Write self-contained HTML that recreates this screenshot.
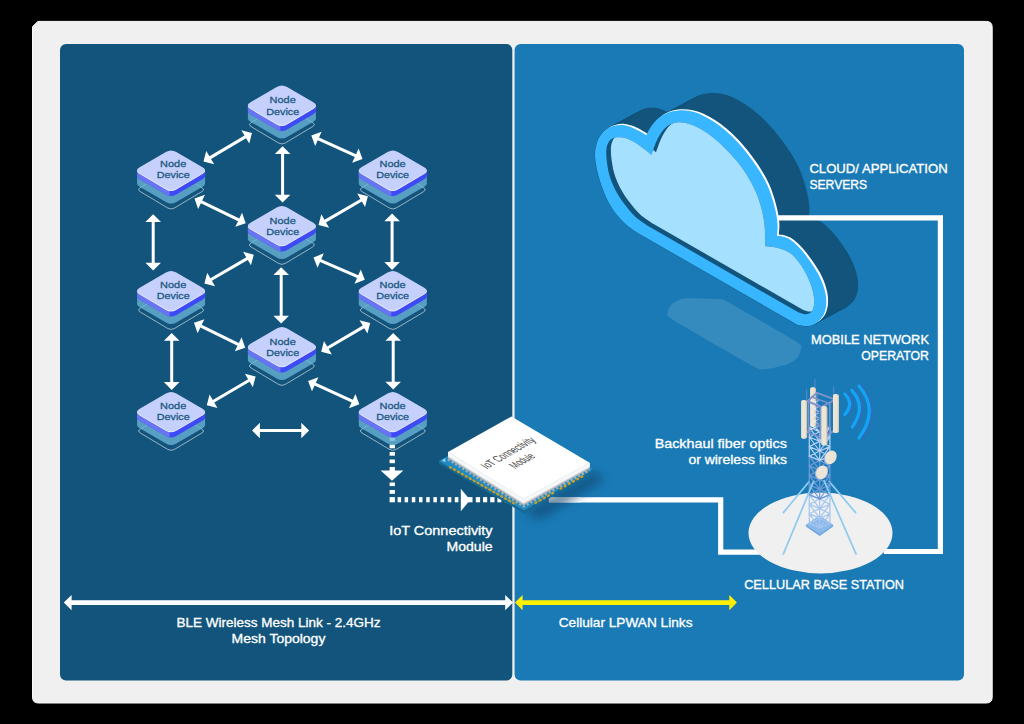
<!DOCTYPE html>
<html><head><meta charset="utf-8"><title>IoT mesh / cellular diagram</title>
<style>
html,body{margin:0;padding:0;background:#000;}
body{width:1024px;height:724px;overflow:hidden;position:relative;}
svg{position:absolute;left:0;top:0;display:block;}
text{font-family:"Liberation Sans",sans-serif;}
</style></head><body>
<svg width="1024" height="724" viewBox="0 0 1024 724">
<rect x="0" y="0" width="1024" height="724" fill="#000"/>
<path d="M37.8,21.4 H986.3 Q992.2,21.4 992.2,27.3 V697.1 Q992.2,703.0 986.3,703.0 H38.4 Q32.5,703.0 32.5,697.1 V26.7 Z" fill="#f0f0f0" stroke="#fbfbfb" stroke-width="1" stroke-linejoin="miter" paint-order="fill"/>
<rect x="60" y="44" width="452.3" height="636.5" rx="6" ry="6" fill="#12547b"/>
<rect x="514.6" y="44" width="449.4" height="636.5" rx="6" ry="6" fill="#1a7ab5"/>
<polygon points="203.50,161.60 214.19,164.34 210.98,158.92 246.05,138.16 249.26,143.59 252.00,132.90 241.31,130.16 244.52,135.58 209.45,156.34 206.24,150.91" fill="#fff"/>
<polygon points="311.30,135.60 315.17,145.93 317.78,140.20 354.78,157.03 352.17,162.77 362.50,158.90 358.63,148.57 356.02,154.30 319.02,137.47 321.63,131.73" fill="#fff"/>
<polygon points="282.60,146.30 274.80,154.10 281.10,154.10 281.10,194.80 274.80,194.80 282.60,202.60 290.40,194.80 284.10,194.80 284.10,154.10 290.40,154.10" fill="#fff"/>
<polygon points="194.50,198.50 198.14,208.91 200.87,203.24 238.02,221.16 235.29,226.84 245.70,223.20 242.06,212.79 239.33,218.46 202.18,200.54 204.91,194.86" fill="#fff"/>
<polygon points="318.50,225.00 329.16,227.83 326.00,222.38 361.91,201.52 365.07,206.96 367.90,196.30 357.24,193.47 360.40,198.92 324.49,219.78 321.33,214.34" fill="#fff"/>
<polygon points="153.20,214.20 145.40,222.00 151.70,222.00 151.70,262.70 145.40,262.70 153.20,270.50 161.00,262.70 154.70,262.70 154.70,222.00 161.00,222.00" fill="#fff"/>
<polygon points="392.10,213.40 384.30,221.20 390.60,221.20 390.60,262.10 384.30,262.10 392.10,269.90 399.90,262.10 393.60,262.10 393.60,221.20 399.90,221.20" fill="#fff"/>
<polygon points="204.40,283.40 215.06,286.23 211.90,280.78 247.81,259.92 250.97,265.36 253.80,254.70 243.14,251.87 246.30,257.32 210.39,278.18 207.23,272.74" fill="#fff"/>
<polygon points="313.50,257.40 317.53,267.67 320.05,261.90 357.05,278.05 354.53,283.83 364.80,279.80 360.77,269.53 358.25,275.30 321.25,259.15 323.77,253.37" fill="#fff"/>
<polygon points="281.20,267.20 273.40,275.00 279.70,275.00 279.70,315.70 273.40,315.70 281.20,323.50 289.00,315.70 282.70,315.70 282.70,275.00 289.00,275.00" fill="#fff"/>
<polygon points="194.00,322.80 197.60,333.23 200.36,327.56 237.53,345.64 234.77,351.30 245.20,347.70 241.60,337.27 238.84,342.94 201.67,324.86 204.43,319.20" fill="#fff"/>
<polygon points="321.20,351.70 331.88,354.47 328.68,349.04 364.24,328.15 367.43,333.58 370.20,322.90 359.52,320.13 362.72,325.56 327.16,346.45 323.97,341.02" fill="#fff"/>
<polygon points="171.70,333.00 163.90,340.80 170.20,340.80 170.20,382.10 163.90,382.10 171.70,389.90 179.50,382.10 173.20,382.10 173.20,340.80 179.50,340.80" fill="#fff"/>
<polygon points="393.20,333.00 385.40,340.80 391.70,340.80 391.70,381.80 385.40,381.80 393.20,389.60 401.00,381.80 394.70,381.80 394.70,340.80 401.00,340.80" fill="#fff"/>
<polygon points="206.80,405.20 217.48,407.97 214.28,402.54 249.64,381.75 252.83,387.18 255.60,376.50 244.92,373.73 248.12,379.16 212.76,399.95 209.57,394.52" fill="#fff"/>
<polygon points="308.10,381.00 311.97,391.33 314.58,385.60 351.58,402.43 348.97,408.17 359.30,404.30 355.43,393.97 352.82,399.70 315.82,382.87 318.43,377.13" fill="#fff"/>
<polygon points="252.10,430.50 259.90,438.30 259.90,432.00 301.30,432.00 301.30,438.30 309.10,430.50 301.30,422.70 301.30,429.00 259.90,429.00 259.90,422.70" fill="#fff"/>
<rect x="389.6" y="437.3" width="5.3" height="3.6" fill="#fff"/>
<rect x="389.6" y="444.6" width="5.3" height="3.7" fill="#fff"/>
<rect x="389.6" y="452.0" width="5.3" height="3.7" fill="#fff"/>
<rect x="389.6" y="459.5" width="5.3" height="3.7" fill="#fff"/>
<rect x="389.6" y="467.0" width="5.3" height="4.0" fill="#fff"/>
<rect x="389.6" y="482.5" width="5.3" height="3.6" fill="#fff"/>
<rect x="389.6" y="490.0" width="5.3" height="3.8" fill="#fff"/>
<rect x="389.6" y="497.1" width="5.3" height="5.2" fill="#fff"/>
<rect x="397.6" y="497.1" width="3.5" height="5.2" fill="#fff"/>
<rect x="404.6" y="497.1" width="3.5" height="5.2" fill="#fff"/>
<rect x="411.8" y="497.1" width="3.5" height="5.2" fill="#fff"/>
<rect x="419.0" y="497.1" width="3.5" height="5.2" fill="#fff"/>
<rect x="426.2" y="497.1" width="3.5" height="5.2" fill="#fff"/>
<rect x="433.4" y="497.1" width="3.5" height="5.2" fill="#fff"/>
<rect x="440.5" y="497.1" width="3.6" height="5.2" fill="#fff"/>
<rect x="447.7" y="497.1" width="3.6" height="5.2" fill="#fff"/>
<rect x="454.8" y="497.1" width="3.6" height="5.2" fill="#fff"/>
<rect x="468.0" y="497.1" width="4.5" height="5.2" fill="#fff"/>
<rect x="475.8" y="497.1" width="4.3" height="5.2" fill="#fff"/>
<rect x="483.0" y="497.1" width="4.2" height="5.2" fill="#fff"/>
<rect x="490.2" y="497.1" width="4.3" height="5.2" fill="#fff"/>
<rect x="497.4" y="497.1" width="4.0" height="5.2" fill="#fff"/>
<rect x="504.6" y="497.1" width="4.0" height="5.2" fill="#fff"/>
<polygon points="380.6,470.6 403.4,470.6 392,480.8" fill="#fff"/>
<polygon points="460.8,488.8 460.8,511.2 470.2,500" fill="#fff"/>
<path d="M251.23,126.65 Q247.80,124.60 251.23,122.55 L278.47,106.25 Q281.90,104.20 285.33,106.25 L312.57,122.55 Q316.00,124.60 312.57,126.65 L285.33,142.95 Q281.90,145.00 278.47,142.95 Z" fill="none" stroke="#fff" stroke-opacity="0.7" stroke-width="0.8"/>
<g opacity="0.78"><path d="M250.49,121.82 Q245.30,118.80 250.49,115.78 L276.71,100.52 Q281.90,97.50 287.09,100.52 L313.31,115.78 Q318.50,118.80 313.31,121.82 L287.09,137.08 Q281.90,140.10 276.71,137.08 Z" fill="#6ab4d6"/><rect x="247.90" y="105.30" width="68.00" height="13.50" fill="#6ab4d6"/></g>
<g ><path d="M250.49,114.32 Q245.30,111.30 250.49,108.28 L276.71,93.02 Q281.90,90.00 287.09,93.02 L313.31,108.28 Q318.50,111.30 313.31,114.32 L287.09,129.58 Q281.90,132.60 276.71,129.58 Z" fill="#3d4af6"/><rect x="247.90" y="105.30" width="68.00" height="6.00" fill="#3d4af6"/></g>
<clipPath id="cl2924"><rect x="244.3" y="100.3" width="36.1" height="60"/></clipPath>
<g clip-path="url(#cl2924)"><path d="M250.49,114.32 Q245.30,111.30 250.49,108.28 L276.71,93.02 Q281.90,90.00 287.09,93.02 L313.31,108.28 Q318.50,111.30 313.31,114.32 L287.09,129.58 Q281.90,132.60 276.71,129.58 Z" fill="#6874f1"/><rect x="247.90" y="105.30" width="68.00" height="6.00" fill="#6874f1"/></g>
<path d="M250.49,109.12 Q245.30,106.10 250.49,103.08 L276.71,87.82 Q281.90,84.80 287.09,87.82 L313.31,103.08 Q318.50,106.10 313.31,109.12 L287.09,124.38 Q281.90,127.40 276.71,124.38 Z" fill="#eef1ff"/>
<path d="M250.49,108.32 Q245.30,105.30 250.49,102.28 L276.71,87.02 Q281.90,84.00 287.09,87.02 L313.31,102.28 Q318.50,105.30 313.31,108.32 L287.09,123.58 Q281.90,126.60 276.71,123.58 Z" fill="#c5d0fc"/>
<text x="282.7" y="103.4" text-anchor="middle" textLength="26.2" font-size="9.7" fill="#1d5a82" stroke="#1d5a82" stroke-width="0.3" lengthAdjust="spacingAndGlyphs">Node</text>
<text x="282.7" y="114.5" text-anchor="middle" textLength="32.9" font-size="9.7" fill="#1d5a82" stroke="#1d5a82" stroke-width="0.3" lengthAdjust="spacingAndGlyphs">Device</text>
<path d="M140.43,191.65 Q137.00,189.60 140.43,187.55 L167.67,171.25 Q171.10,169.20 174.53,171.25 L201.77,187.55 Q205.20,189.60 201.77,191.65 L174.53,207.95 Q171.10,210.00 167.67,207.95 Z" fill="none" stroke="#fff" stroke-opacity="0.7" stroke-width="0.8"/>
<g opacity="0.78"><path d="M139.69,186.82 Q134.50,183.80 139.69,180.78 L165.91,165.52 Q171.10,162.50 176.29,165.52 L202.51,180.78 Q207.70,183.80 202.51,186.82 L176.29,202.08 Q171.10,205.10 165.91,202.08 Z" fill="#6ab4d6"/><rect x="137.10" y="170.30" width="68.00" height="13.50" fill="#6ab4d6"/></g>
<g ><path d="M139.69,179.32 Q134.50,176.30 139.69,173.28 L165.91,158.02 Q171.10,155.00 176.29,158.02 L202.51,173.28 Q207.70,176.30 202.51,179.32 L176.29,194.58 Q171.10,197.60 165.91,194.58 Z" fill="#3d4af6"/><rect x="137.10" y="170.30" width="68.00" height="6.00" fill="#3d4af6"/></g>
<clipPath id="cl1881"><rect x="133.5" y="165.3" width="36.1" height="60"/></clipPath>
<g clip-path="url(#cl1881)"><path d="M139.69,179.32 Q134.50,176.30 139.69,173.28 L165.91,158.02 Q171.10,155.00 176.29,158.02 L202.51,173.28 Q207.70,176.30 202.51,179.32 L176.29,194.58 Q171.10,197.60 165.91,194.58 Z" fill="#6874f1"/><rect x="137.10" y="170.30" width="68.00" height="6.00" fill="#6874f1"/></g>
<path d="M139.69,174.12 Q134.50,171.10 139.69,168.08 L165.91,152.82 Q171.10,149.80 176.29,152.82 L202.51,168.08 Q207.70,171.10 202.51,174.12 L176.29,189.38 Q171.10,192.40 165.91,189.38 Z" fill="#eef1ff"/>
<path d="M139.69,173.32 Q134.50,170.30 139.69,167.28 L165.91,152.02 Q171.10,149.00 176.29,152.02 L202.51,167.28 Q207.70,170.30 202.51,173.32 L176.29,188.58 Q171.10,191.60 165.91,188.58 Z" fill="#c5d0fc"/>
<text x="173.2" y="167.4" text-anchor="middle" textLength="26.2" font-size="9.7" fill="#1d5a82" stroke="#1d5a82" stroke-width="0.3" lengthAdjust="spacingAndGlyphs">Node</text>
<text x="173.2" y="178.4" text-anchor="middle" textLength="32.9" font-size="9.7" fill="#1d5a82" stroke="#1d5a82" stroke-width="0.3" lengthAdjust="spacingAndGlyphs">Device</text>
<path d="M362.13,191.65 Q358.70,189.60 362.13,187.55 L389.37,171.25 Q392.80,169.20 396.23,171.25 L423.47,187.55 Q426.90,189.60 423.47,191.65 L396.23,207.95 Q392.80,210.00 389.37,207.95 Z" fill="none" stroke="#fff" stroke-opacity="0.7" stroke-width="0.8"/>
<g opacity="0.78"><path d="M361.39,186.82 Q356.20,183.80 361.39,180.78 L387.61,165.52 Q392.80,162.50 397.99,165.52 L424.21,180.78 Q429.40,183.80 424.21,186.82 L397.99,202.08 Q392.80,205.10 387.61,202.08 Z" fill="#6ab4d6"/><rect x="358.80" y="170.30" width="68.00" height="13.50" fill="#6ab4d6"/></g>
<g ><path d="M361.39,179.32 Q356.20,176.30 361.39,173.28 L387.61,158.02 Q392.80,155.00 397.99,158.02 L424.21,173.28 Q429.40,176.30 424.21,179.32 L397.99,194.58 Q392.80,197.60 387.61,194.58 Z" fill="#3d4af6"/><rect x="358.80" y="170.30" width="68.00" height="6.00" fill="#3d4af6"/></g>
<clipPath id="cl4098"><rect x="355.2" y="165.3" width="36.1" height="60"/></clipPath>
<g clip-path="url(#cl4098)"><path d="M361.39,179.32 Q356.20,176.30 361.39,173.28 L387.61,158.02 Q392.80,155.00 397.99,158.02 L424.21,173.28 Q429.40,176.30 424.21,179.32 L397.99,194.58 Q392.80,197.60 387.61,194.58 Z" fill="#6874f1"/><rect x="358.80" y="170.30" width="68.00" height="6.00" fill="#6874f1"/></g>
<path d="M361.39,174.12 Q356.20,171.10 361.39,168.08 L387.61,152.82 Q392.80,149.80 397.99,152.82 L424.21,168.08 Q429.40,171.10 424.21,174.12 L397.99,189.38 Q392.80,192.40 387.61,189.38 Z" fill="#eef1ff"/>
<path d="M361.39,173.32 Q356.20,170.30 361.39,167.28 L387.61,152.02 Q392.80,149.00 397.99,152.02 L424.21,167.28 Q429.40,170.30 424.21,173.32 L397.99,188.58 Q392.80,191.60 387.61,188.58 Z" fill="#c5d0fc"/>
<text x="392.6" y="167.4" text-anchor="middle" textLength="26.2" font-size="9.7" fill="#1d5a82" stroke="#1d5a82" stroke-width="0.3" lengthAdjust="spacingAndGlyphs">Node</text>
<text x="392.6" y="178.4" text-anchor="middle" textLength="32.9" font-size="9.7" fill="#1d5a82" stroke="#1d5a82" stroke-width="0.3" lengthAdjust="spacingAndGlyphs">Device</text>
<path d="M251.23,247.05 Q247.80,245.00 251.23,242.95 L278.47,226.65 Q281.90,224.60 285.33,226.65 L312.57,242.95 Q316.00,245.00 312.57,247.05 L285.33,263.35 Q281.90,265.40 278.47,263.35 Z" fill="none" stroke="#fff" stroke-opacity="0.7" stroke-width="0.8"/>
<g opacity="0.78"><path d="M250.49,242.22 Q245.30,239.20 250.49,236.18 L276.71,220.92 Q281.90,217.90 287.09,220.92 L313.31,236.18 Q318.50,239.20 313.31,242.22 L287.09,257.48 Q281.90,260.50 276.71,257.48 Z" fill="#6ab4d6"/><rect x="247.90" y="225.70" width="68.00" height="13.50" fill="#6ab4d6"/></g>
<g ><path d="M250.49,234.72 Q245.30,231.70 250.49,228.68 L276.71,213.42 Q281.90,210.40 287.09,213.42 L313.31,228.68 Q318.50,231.70 313.31,234.72 L287.09,249.98 Q281.90,253.00 276.71,249.98 Z" fill="#3d4af6"/><rect x="247.90" y="225.70" width="68.00" height="6.00" fill="#3d4af6"/></g>
<clipPath id="cl3044"><rect x="244.3" y="220.7" width="36.1" height="60"/></clipPath>
<g clip-path="url(#cl3044)"><path d="M250.49,234.72 Q245.30,231.70 250.49,228.68 L276.71,213.42 Q281.90,210.40 287.09,213.42 L313.31,228.68 Q318.50,231.70 313.31,234.72 L287.09,249.98 Q281.90,253.00 276.71,249.98 Z" fill="#6874f1"/><rect x="247.90" y="225.70" width="68.00" height="6.00" fill="#6874f1"/></g>
<path d="M250.49,229.52 Q245.30,226.50 250.49,223.48 L276.71,208.22 Q281.90,205.20 287.09,208.22 L313.31,223.48 Q318.50,226.50 313.31,229.52 L287.09,244.78 Q281.90,247.80 276.71,244.78 Z" fill="#eef1ff"/>
<path d="M250.49,228.72 Q245.30,225.70 250.49,222.68 L276.71,207.42 Q281.90,204.40 287.09,207.42 L313.31,222.68 Q318.50,225.70 313.31,228.72 L287.09,243.98 Q281.90,247.00 276.71,243.98 Z" fill="#c5d0fc"/>
<text x="282.7" y="223.8" text-anchor="middle" textLength="26.2" font-size="9.7" fill="#1d5a82" stroke="#1d5a82" stroke-width="0.3" lengthAdjust="spacingAndGlyphs">Node</text>
<text x="282.7" y="234.9" text-anchor="middle" textLength="32.9" font-size="9.7" fill="#1d5a82" stroke="#1d5a82" stroke-width="0.3" lengthAdjust="spacingAndGlyphs">Device</text>
<path d="M140.43,312.15 Q137.00,310.10 140.43,308.05 L167.67,291.75 Q171.10,289.70 174.53,291.75 L201.77,308.05 Q205.20,310.10 201.77,312.15 L174.53,328.45 Q171.10,330.50 167.67,328.45 Z" fill="none" stroke="#fff" stroke-opacity="0.7" stroke-width="0.8"/>
<g opacity="0.78"><path d="M139.69,307.32 Q134.50,304.30 139.69,301.28 L165.91,286.02 Q171.10,283.00 176.29,286.02 L202.51,301.28 Q207.70,304.30 202.51,307.32 L176.29,322.58 Q171.10,325.60 165.91,322.58 Z" fill="#6ab4d6"/><rect x="137.10" y="290.80" width="68.00" height="13.50" fill="#6ab4d6"/></g>
<g ><path d="M139.69,299.82 Q134.50,296.80 139.69,293.78 L165.91,278.52 Q171.10,275.50 176.29,278.52 L202.51,293.78 Q207.70,296.80 202.51,299.82 L176.29,315.08 Q171.10,318.10 165.91,315.08 Z" fill="#3d4af6"/><rect x="137.10" y="290.80" width="68.00" height="6.00" fill="#3d4af6"/></g>
<clipPath id="cl2001"><rect x="133.5" y="285.8" width="36.1" height="60"/></clipPath>
<g clip-path="url(#cl2001)"><path d="M139.69,299.82 Q134.50,296.80 139.69,293.78 L165.91,278.52 Q171.10,275.50 176.29,278.52 L202.51,293.78 Q207.70,296.80 202.51,299.82 L176.29,315.08 Q171.10,318.10 165.91,315.08 Z" fill="#6874f1"/><rect x="137.10" y="290.80" width="68.00" height="6.00" fill="#6874f1"/></g>
<path d="M139.69,294.62 Q134.50,291.60 139.69,288.58 L165.91,273.32 Q171.10,270.30 176.29,273.32 L202.51,288.58 Q207.70,291.60 202.51,294.62 L176.29,309.88 Q171.10,312.90 165.91,309.88 Z" fill="#eef1ff"/>
<path d="M139.69,293.82 Q134.50,290.80 139.69,287.78 L165.91,272.52 Q171.10,269.50 176.29,272.52 L202.51,287.78 Q207.70,290.80 202.51,293.82 L176.29,309.08 Q171.10,312.10 165.91,309.08 Z" fill="#c5d0fc"/>
<text x="173.2" y="287.9" text-anchor="middle" textLength="26.2" font-size="9.7" fill="#1d5a82" stroke="#1d5a82" stroke-width="0.3" lengthAdjust="spacingAndGlyphs">Node</text>
<text x="173.2" y="298.9" text-anchor="middle" textLength="32.9" font-size="9.7" fill="#1d5a82" stroke="#1d5a82" stroke-width="0.3" lengthAdjust="spacingAndGlyphs">Device</text>
<path d="M362.13,312.15 Q358.70,310.10 362.13,308.05 L389.37,291.75 Q392.80,289.70 396.23,291.75 L423.47,308.05 Q426.90,310.10 423.47,312.15 L396.23,328.45 Q392.80,330.50 389.37,328.45 Z" fill="none" stroke="#fff" stroke-opacity="0.7" stroke-width="0.8"/>
<g opacity="0.78"><path d="M361.39,307.32 Q356.20,304.30 361.39,301.28 L387.61,286.02 Q392.80,283.00 397.99,286.02 L424.21,301.28 Q429.40,304.30 424.21,307.32 L397.99,322.58 Q392.80,325.60 387.61,322.58 Z" fill="#6ab4d6"/><rect x="358.80" y="290.80" width="68.00" height="13.50" fill="#6ab4d6"/></g>
<g ><path d="M361.39,299.82 Q356.20,296.80 361.39,293.78 L387.61,278.52 Q392.80,275.50 397.99,278.52 L424.21,293.78 Q429.40,296.80 424.21,299.82 L397.99,315.08 Q392.80,318.10 387.61,315.08 Z" fill="#3d4af6"/><rect x="358.80" y="290.80" width="68.00" height="6.00" fill="#3d4af6"/></g>
<clipPath id="cl4218"><rect x="355.2" y="285.8" width="36.1" height="60"/></clipPath>
<g clip-path="url(#cl4218)"><path d="M361.39,299.82 Q356.20,296.80 361.39,293.78 L387.61,278.52 Q392.80,275.50 397.99,278.52 L424.21,293.78 Q429.40,296.80 424.21,299.82 L397.99,315.08 Q392.80,318.10 387.61,315.08 Z" fill="#6874f1"/><rect x="358.80" y="290.80" width="68.00" height="6.00" fill="#6874f1"/></g>
<path d="M361.39,294.62 Q356.20,291.60 361.39,288.58 L387.61,273.32 Q392.80,270.30 397.99,273.32 L424.21,288.58 Q429.40,291.60 424.21,294.62 L397.99,309.88 Q392.80,312.90 387.61,309.88 Z" fill="#eef1ff"/>
<path d="M361.39,293.82 Q356.20,290.80 361.39,287.78 L387.61,272.52 Q392.80,269.50 397.99,272.52 L424.21,287.78 Q429.40,290.80 424.21,293.82 L397.99,309.08 Q392.80,312.10 387.61,309.08 Z" fill="#c5d0fc"/>
<text x="392.6" y="287.9" text-anchor="middle" textLength="26.2" font-size="9.7" fill="#1d5a82" stroke="#1d5a82" stroke-width="0.3" lengthAdjust="spacingAndGlyphs">Node</text>
<text x="392.6" y="298.9" text-anchor="middle" textLength="32.9" font-size="9.7" fill="#1d5a82" stroke="#1d5a82" stroke-width="0.3" lengthAdjust="spacingAndGlyphs">Device</text>
<path d="M251.23,368.05 Q247.80,366.00 251.23,363.95 L278.47,347.65 Q281.90,345.60 285.33,347.65 L312.57,363.95 Q316.00,366.00 312.57,368.05 L285.33,384.35 Q281.90,386.40 278.47,384.35 Z" fill="none" stroke="#fff" stroke-opacity="0.7" stroke-width="0.8"/>
<g opacity="0.78"><path d="M250.49,363.22 Q245.30,360.20 250.49,357.18 L276.71,341.92 Q281.90,338.90 287.09,341.92 L313.31,357.18 Q318.50,360.20 313.31,363.22 L287.09,378.48 Q281.90,381.50 276.71,378.48 Z" fill="#6ab4d6"/><rect x="247.90" y="346.70" width="68.00" height="13.50" fill="#6ab4d6"/></g>
<g ><path d="M250.49,355.72 Q245.30,352.70 250.49,349.68 L276.71,334.42 Q281.90,331.40 287.09,334.42 L313.31,349.68 Q318.50,352.70 313.31,355.72 L287.09,370.98 Q281.90,374.00 276.71,370.98 Z" fill="#3d4af6"/><rect x="247.90" y="346.70" width="68.00" height="6.00" fill="#3d4af6"/></g>
<clipPath id="cl3165"><rect x="244.3" y="341.7" width="36.1" height="60"/></clipPath>
<g clip-path="url(#cl3165)"><path d="M250.49,355.72 Q245.30,352.70 250.49,349.68 L276.71,334.42 Q281.90,331.40 287.09,334.42 L313.31,349.68 Q318.50,352.70 313.31,355.72 L287.09,370.98 Q281.90,374.00 276.71,370.98 Z" fill="#6874f1"/><rect x="247.90" y="346.70" width="68.00" height="6.00" fill="#6874f1"/></g>
<path d="M250.49,350.52 Q245.30,347.50 250.49,344.48 L276.71,329.22 Q281.90,326.20 287.09,329.22 L313.31,344.48 Q318.50,347.50 313.31,350.52 L287.09,365.78 Q281.90,368.80 276.71,365.78 Z" fill="#eef1ff"/>
<path d="M250.49,349.72 Q245.30,346.70 250.49,343.68 L276.71,328.42 Q281.90,325.40 287.09,328.42 L313.31,343.68 Q318.50,346.70 313.31,349.72 L287.09,364.98 Q281.90,368.00 276.71,364.98 Z" fill="#c5d0fc"/>
<text x="282.7" y="344.8" text-anchor="middle" textLength="26.2" font-size="9.7" fill="#1d5a82" stroke="#1d5a82" stroke-width="0.3" lengthAdjust="spacingAndGlyphs">Node</text>
<text x="282.7" y="355.9" text-anchor="middle" textLength="32.9" font-size="9.7" fill="#1d5a82" stroke="#1d5a82" stroke-width="0.3" lengthAdjust="spacingAndGlyphs">Device</text>
<path d="M140.43,433.05 Q137.00,431.00 140.43,428.95 L167.67,412.65 Q171.10,410.60 174.53,412.65 L201.77,428.95 Q205.20,431.00 201.77,433.05 L174.53,449.35 Q171.10,451.40 167.67,449.35 Z" fill="none" stroke="#fff" stroke-opacity="0.7" stroke-width="0.8"/>
<g opacity="0.78"><path d="M139.69,428.22 Q134.50,425.20 139.69,422.18 L165.91,406.92 Q171.10,403.90 176.29,406.92 L202.51,422.18 Q207.70,425.20 202.51,428.22 L176.29,443.48 Q171.10,446.50 165.91,443.48 Z" fill="#6ab4d6"/><rect x="137.10" y="411.70" width="68.00" height="13.50" fill="#6ab4d6"/></g>
<g ><path d="M139.69,420.72 Q134.50,417.70 139.69,414.68 L165.91,399.42 Q171.10,396.40 176.29,399.42 L202.51,414.68 Q207.70,417.70 202.51,420.72 L176.29,435.98 Q171.10,439.00 165.91,435.98 Z" fill="#3d4af6"/><rect x="137.10" y="411.70" width="68.00" height="6.00" fill="#3d4af6"/></g>
<clipPath id="cl2122"><rect x="133.5" y="406.7" width="36.1" height="60"/></clipPath>
<g clip-path="url(#cl2122)"><path d="M139.69,420.72 Q134.50,417.70 139.69,414.68 L165.91,399.42 Q171.10,396.40 176.29,399.42 L202.51,414.68 Q207.70,417.70 202.51,420.72 L176.29,435.98 Q171.10,439.00 165.91,435.98 Z" fill="#6874f1"/><rect x="137.10" y="411.70" width="68.00" height="6.00" fill="#6874f1"/></g>
<path d="M139.69,415.52 Q134.50,412.50 139.69,409.48 L165.91,394.22 Q171.10,391.20 176.29,394.22 L202.51,409.48 Q207.70,412.50 202.51,415.52 L176.29,430.78 Q171.10,433.80 165.91,430.78 Z" fill="#eef1ff"/>
<path d="M139.69,414.72 Q134.50,411.70 139.69,408.68 L165.91,393.42 Q171.10,390.40 176.29,393.42 L202.51,408.68 Q207.70,411.70 202.51,414.72 L176.29,429.98 Q171.10,433.00 165.91,429.98 Z" fill="#c5d0fc"/>
<text x="173.2" y="408.8" text-anchor="middle" textLength="26.2" font-size="9.7" fill="#1d5a82" stroke="#1d5a82" stroke-width="0.3" lengthAdjust="spacingAndGlyphs">Node</text>
<text x="173.2" y="419.8" text-anchor="middle" textLength="32.9" font-size="9.7" fill="#1d5a82" stroke="#1d5a82" stroke-width="0.3" lengthAdjust="spacingAndGlyphs">Device</text>
<path d="M362.13,433.05 Q358.70,431.00 362.13,428.95 L389.37,412.65 Q392.80,410.60 396.23,412.65 L423.47,428.95 Q426.90,431.00 423.47,433.05 L396.23,449.35 Q392.80,451.40 389.37,449.35 Z" fill="none" stroke="#fff" stroke-opacity="0.7" stroke-width="0.8"/>
<g opacity="0.78"><path d="M361.39,428.22 Q356.20,425.20 361.39,422.18 L387.61,406.92 Q392.80,403.90 397.99,406.92 L424.21,422.18 Q429.40,425.20 424.21,428.22 L397.99,443.48 Q392.80,446.50 387.61,443.48 Z" fill="#6ab4d6"/><rect x="358.80" y="411.70" width="68.00" height="13.50" fill="#6ab4d6"/></g>
<g ><path d="M361.39,420.72 Q356.20,417.70 361.39,414.68 L387.61,399.42 Q392.80,396.40 397.99,399.42 L424.21,414.68 Q429.40,417.70 424.21,420.72 L397.99,435.98 Q392.80,439.00 387.61,435.98 Z" fill="#3d4af6"/><rect x="358.80" y="411.70" width="68.00" height="6.00" fill="#3d4af6"/></g>
<clipPath id="cl4339"><rect x="355.2" y="406.7" width="36.1" height="60"/></clipPath>
<g clip-path="url(#cl4339)"><path d="M361.39,420.72 Q356.20,417.70 361.39,414.68 L387.61,399.42 Q392.80,396.40 397.99,399.42 L424.21,414.68 Q429.40,417.70 424.21,420.72 L397.99,435.98 Q392.80,439.00 387.61,435.98 Z" fill="#6874f1"/><rect x="358.80" y="411.70" width="68.00" height="6.00" fill="#6874f1"/></g>
<path d="M361.39,415.52 Q356.20,412.50 361.39,409.48 L387.61,394.22 Q392.80,391.20 397.99,394.22 L424.21,409.48 Q429.40,412.50 424.21,415.52 L397.99,430.78 Q392.80,433.80 387.61,430.78 Z" fill="#eef1ff"/>
<path d="M361.39,414.72 Q356.20,411.70 361.39,408.68 L387.61,393.42 Q392.80,390.40 397.99,393.42 L424.21,408.68 Q429.40,411.70 424.21,414.72 L397.99,429.98 Q392.80,433.00 387.61,429.98 Z" fill="#c5d0fc"/>
<text x="392.6" y="408.8" text-anchor="middle" textLength="26.2" font-size="9.7" fill="#1d5a82" stroke="#1d5a82" stroke-width="0.3" lengthAdjust="spacingAndGlyphs">Node</text>
<text x="392.6" y="419.8" text-anchor="middle" textLength="32.9" font-size="9.7" fill="#1d5a82" stroke="#1d5a82" stroke-width="0.3" lengthAdjust="spacingAndGlyphs">Device</text>
<text x="809.4" y="173.4" font-size="13.2" text-anchor="start" font-weight="normal" fill="#fff" textLength="138.3" lengthAdjust="spacingAndGlyphs" stroke="#fff" stroke-width="0.32">CLOUD/ APPLICATION</text>
<text x="809.4" y="188.8" font-size="13.2" text-anchor="start" font-weight="normal" fill="#fff" textLength="57.8" lengthAdjust="spacingAndGlyphs" stroke="#fff" stroke-width="0.32">SERVERS</text>
<text x="929.0" y="344.4" font-size="13.2" text-anchor="end" font-weight="normal" fill="#fff" textLength="118.0" lengthAdjust="spacingAndGlyphs" stroke="#fff" stroke-width="0.32">MOBILE NETWORK</text>
<text x="929.0" y="359.7" font-size="13.2" text-anchor="end" font-weight="normal" fill="#fff" textLength="67.8" lengthAdjust="spacingAndGlyphs" stroke="#fff" stroke-width="0.32">OPERATOR</text>
<text x="786.9" y="448.1" font-size="13.2" text-anchor="end" font-weight="normal" fill="#fff" textLength="132.2" lengthAdjust="spacingAndGlyphs" stroke="#fff" stroke-width="0.32">Backhaul fiber optics</text>
<text x="786.9" y="463.8" font-size="13.2" text-anchor="end" font-weight="normal" fill="#fff" textLength="98.5" lengthAdjust="spacingAndGlyphs" stroke="#fff" stroke-width="0.32">or wireless links</text>
<text x="492.6" y="535.0" font-size="13.2" text-anchor="end" font-weight="normal" fill="#fff" textLength="103.4" lengthAdjust="spacingAndGlyphs" stroke="#fff" stroke-width="0.32">IoT Connectivity</text>
<text x="492.6" y="550.8" font-size="13.2" text-anchor="end" font-weight="normal" fill="#fff" textLength="46.0" lengthAdjust="spacingAndGlyphs" stroke="#fff" stroke-width="0.32">Module</text>
<text x="625.6" y="626.9" font-size="13.2" text-anchor="middle" font-weight="normal" fill="#fff" textLength="133.8" lengthAdjust="spacingAndGlyphs" stroke="#fff" stroke-width="0.32">Cellular LPWAN Links</text>
<polygon points="63.80,602.60 71.60,610.30 71.60,605.00 505.20,605.00 505.20,610.30 513.00,602.60 505.20,594.90 505.20,600.20 71.60,600.20 71.60,594.90" fill="#fff"/>
<polygon points="515.00,602.60 522.60,610.20 522.60,605.00 729.30,605.00 729.30,610.20 736.90,602.60 729.30,595.00 729.30,600.20 522.60,600.20 522.60,595.00" fill="#fff000"/>
<defs><path id="cOut" d="M640.50,234.50 C638.28,232.98 631.07,228.60 627.20,225.40 C623.33,222.20 620.33,219.03 617.30,215.30 C614.27,211.57 611.48,207.55 609.00,203.00 C606.52,198.45 604.25,192.92 602.40,188.00 C600.55,183.08 599.03,177.88 597.90,173.50 C596.77,169.12 596.08,165.12 595.60,161.70 C595.12,158.28 594.90,155.70 595.00,153.00 C595.10,150.30 595.52,148.07 596.20,145.50 C596.88,142.93 597.63,140.10 599.10,137.60 C600.57,135.10 602.65,132.42 605.00,130.50 C607.35,128.58 610.27,127.02 613.20,126.10 C616.13,125.18 619.47,124.78 622.60,125.00 C625.73,125.22 629.07,126.32 632.00,127.40 C634.93,128.48 637.82,130.20 640.20,131.50 C642.58,132.80 645.28,134.58 646.30,135.20 L646.30,135.20 C647.05,133.83 648.88,129.73 650.80,127.00 C652.72,124.27 655.07,121.15 657.80,118.80 C660.53,116.45 663.68,114.30 667.20,112.90 C670.72,111.50 675.10,110.70 678.90,110.40 C682.70,110.10 686.20,110.35 690.00,111.10 C693.80,111.85 697.78,113.18 701.70,114.90 C705.62,116.62 709.58,118.85 713.50,121.40 C717.42,123.95 721.28,126.87 725.20,130.20 C729.12,133.53 733.08,137.20 737.00,141.40 C740.92,145.60 744.98,150.53 748.70,155.40 C752.42,160.27 756.15,165.53 759.30,170.60 C762.45,175.67 765.32,180.72 767.60,185.80 C769.88,190.88 771.53,196.20 773.00,201.10 C774.47,206.00 775.63,211.10 776.40,215.20 C777.17,219.30 777.50,222.28 777.60,225.70 C777.70,229.12 777.10,234.03 777.00,235.70 L777.00,235.70 C778.27,235.92 781.97,236.03 784.60,237.00 C787.23,237.97 789.50,238.73 792.80,241.50 C796.10,244.27 800.23,248.32 804.40,253.60 C808.57,258.88 814.45,267.20 817.80,273.20 C821.15,279.20 823.08,284.72 824.50,289.60 C825.92,294.48 826.38,298.43 826.30,302.50 C826.22,306.57 825.55,310.68 824.00,314.00 C822.45,317.32 819.67,320.40 817.00,322.40 C814.33,324.40 811.20,325.57 808.00,326.00 C804.80,326.43 799.50,325.17 797.80,325.00 Z"/><path id="cHole" d="M649.00,226.60 C646.77,225.00 639.63,220.67 635.60,217.00 C631.57,213.33 628.13,209.02 624.80,204.60 C621.47,200.18 618.13,195.30 615.60,190.50 C613.07,185.70 611.05,180.60 609.60,175.80 C608.15,171.00 607.45,165.83 606.90,161.70 C606.35,157.57 606.20,153.87 606.30,151.00 C606.40,148.13 606.88,146.30 607.50,144.50 C608.12,142.70 609.00,141.28 610.00,140.20 C611.00,139.12 612.18,138.50 613.50,138.00 C614.82,137.50 615.80,137.17 617.90,137.20 C620.00,137.23 622.97,137.17 626.10,138.20 C629.23,139.23 633.63,141.55 636.70,143.40 C639.77,145.25 642.05,147.40 644.50,149.30 C646.95,151.20 650.25,153.88 651.40,154.80 L651.40,154.80 C652.23,152.58 654.58,145.42 656.40,141.50 C658.22,137.58 660.17,134.05 662.30,131.30 C664.43,128.55 666.43,126.50 669.20,125.00 C671.97,123.50 675.43,122.42 678.90,122.30 C682.37,122.18 686.20,123.08 690.00,124.30 C693.80,125.52 697.78,127.35 701.70,129.60 C705.62,131.85 709.58,134.67 713.50,137.80 C717.42,140.93 721.28,144.48 725.20,148.40 C729.12,152.32 733.37,156.82 737.00,161.30 C740.63,165.78 743.87,170.23 747.00,175.30 C750.13,180.37 753.35,186.03 755.80,191.70 C758.25,197.37 760.23,203.63 761.70,209.30 C763.17,214.97 763.98,219.55 764.60,225.70 C765.22,231.85 765.27,242.78 765.40,246.20 L765.40,246.20 C767.50,246.50 773.62,246.65 778.00,248.00 C782.38,249.35 787.40,250.72 791.70,254.30 C796.00,257.88 800.52,264.18 803.80,269.50 C807.08,274.82 809.67,281.12 811.40,286.20 C813.13,291.28 813.95,296.12 814.20,300.00 C814.45,303.88 813.77,307.23 812.90,309.50 C812.03,311.77 810.57,312.85 809.00,313.60 C807.43,314.35 805.37,314.25 803.50,314.00 C801.63,313.75 798.75,312.42 797.80,312.10 Z"/><clipPath id="cHoleClip"><use href="#cHole"/></clipPath></defs>
<path d="M667.60,312.50 C667.37,310.57 669.97,305.63 672.00,304.00 C674.03,302.37 679.40,299.05 685.00,298.50 C690.60,297.95 715.10,298.95 720.00,299.30 C724.90,299.65 718.13,296.58 727.00,301.50 C735.87,306.42 787.37,336.02 796.00,341.50 C804.63,346.98 800.88,346.57 801.00,348.50 C801.12,350.43 798.63,356.14 797.00,358.00 C795.37,359.86 790.85,363.08 787.00,364.40 C783.15,365.72 768.08,369.17 764.00,369.30 C759.92,369.43 762.50,371.19 752.00,365.50 C741.50,359.81 683.85,326.68 674.00,320.50 C664.15,314.32 667.83,314.43 667.60,312.50Z" fill="#fff" fill-opacity="0.12"/>
<g fill="#12547b" stroke="#12547b" stroke-width="0.6"><use href="#cOut" x="0.00" y="-0.00"/><use href="#cOut" x="0.88" y="-0.47"/><use href="#cOut" x="1.75" y="-0.94"/><use href="#cOut" x="2.62" y="-1.42"/><use href="#cOut" x="3.50" y="-1.89"/><use href="#cOut" x="4.38" y="-2.36"/><use href="#cOut" x="5.25" y="-2.83"/><use href="#cOut" x="6.12" y="-3.31"/><use href="#cOut" x="7.00" y="-3.78"/><use href="#cOut" x="7.88" y="-4.25"/><use href="#cOut" x="8.75" y="-4.72"/><use href="#cOut" x="9.62" y="-5.19"/><use href="#cOut" x="10.50" y="-5.67"/><use href="#cOut" x="11.38" y="-6.14"/><use href="#cOut" x="12.25" y="-6.61"/><use href="#cOut" x="13.12" y="-7.08"/><use href="#cOut" x="14.00" y="-7.56"/><use href="#cOut" x="14.88" y="-8.03"/><use href="#cOut" x="15.75" y="-8.50"/><use href="#cOut" x="16.62" y="-8.97"/><use href="#cOut" x="17.50" y="-9.44"/><use href="#cOut" x="18.38" y="-9.92"/><use href="#cOut" x="19.25" y="-10.39"/><use href="#cOut" x="20.12" y="-10.86"/><use href="#cOut" x="21.00" y="-11.33"/><use href="#cOut" x="21.88" y="-11.81"/><use href="#cOut" x="22.75" y="-12.28"/><use href="#cOut" x="23.62" y="-12.75"/><use href="#cOut" x="24.50" y="-13.22"/><use href="#cOut" x="25.38" y="-13.69"/><use href="#cOut" x="26.25" y="-14.17"/><use href="#cOut" x="27.12" y="-14.64"/><use href="#cOut" x="28.00" y="-15.11"/><use href="#cOut" x="28.88" y="-15.58"/><use href="#cOut" x="29.75" y="-16.06"/><use href="#cOut" x="30.62" y="-16.53"/><use href="#cOut" x="31.50" y="-17.00"/></g>
<path d="M777,217.9 H940.4 V551.5 H884" fill="none" stroke="#fff" stroke-width="5.2"/>
<defs><linearGradient id="fadeL" gradientUnits="userSpaceOnUse" x1="548" y1="0" x2="580" y2="0"><stop offset="0" stop-color="#e4e7ea"/><stop offset="1" stop-color="#fff"/></linearGradient></defs>
<path d="M548.9,499.8 H720.7 V552.2 H760" fill="none" stroke="#fff" stroke-width="5.2"/>
<rect x="548.9" y="497.2" width="32" height="5.2" fill="url(#fadeL)"/>
<use href="#cOut" x="1.8" y="-1.1" fill="#fff"/>
<use href="#cOut" fill="#38b6ff"/>
<use href="#cHole" fill="#12547b"/>
<g clip-path="url(#cHoleClip)"><use href="#cHole" x="4.6" y="-2.6" fill="#a6e0ff"/></g>
<ellipse cx="820.5" cy="533" rx="72" ry="40.4" fill="#f0f0f0"/>
<g stroke="#8ecbf0" stroke-width="1.7" fill="none" stroke-linecap="round"><path d="M809.3,481.4 L783.4,512.6 M829.1,481.4 L855.6,512.6"/></g>
<path d="M805.9,524.9 L819.7,515.5 L833.2,524.9 L833.2,526.6 L819.7,536 L805.9,526.6 Z" fill="#6fa3df"/>
<path d="M805.9,524.9 L819.7,515.5 L833.2,524.9 L819.7,534.3 Z" fill="#8bb8ea"/>
<g stroke="#a5c6ef" stroke-width="1.25" fill="none" stroke-linecap="round"><path d="M809.3,494.6 V523.4 M819.7,499.0 V527.8 M829.9,494.6 V523.4"/><path d="M809.3,523.4 L819.7,527.8 L829.9,523.4 M809.3,523.4 L819.7,518.2 M819.7,527.8 L809.3,513.8 M829.9,523.4 L819.7,518.2 M819.7,527.8 L829.9,513.8 M809.3,513.8 L819.7,518.2 L829.9,513.8 M809.3,513.8 L819.7,508.6 M819.7,518.2 L809.3,504.2 M829.9,513.8 L819.7,508.6 M819.7,518.2 L829.9,504.2 M809.3,504.2 L819.7,508.6 L829.9,504.2 M809.3,504.2 L819.7,499.0 M819.7,508.6 L809.3,494.6 M829.9,504.2 L819.7,499.0 M819.7,508.6 L829.9,494.6 M809.3,494.6 L819.7,499.0 L829.9,494.6"/></g>
<g stroke="#6d9ad8" stroke-width="1.25" fill="none" stroke-linecap="round"><path d="M809.3,456.2 V494.6 M819.7,460.6 V499.0 M829.9,456.2 V494.6"/><path d="M809.3,494.6 L819.7,499.0 L829.9,494.6 M809.3,494.6 L819.7,489.4 M819.7,499.0 L809.3,485.0 M829.9,494.6 L819.7,489.4 M819.7,499.0 L829.9,485.0 M809.3,485.0 L819.7,489.4 L829.9,485.0 M809.3,485.0 L819.7,479.8 M819.7,489.4 L809.3,475.4 M829.9,485.0 L819.7,479.8 M819.7,489.4 L829.9,475.4 M809.3,475.4 L819.7,479.8 L829.9,475.4 M809.3,475.4 L819.7,470.2 M819.7,479.8 L809.3,465.8 M829.9,475.4 L819.7,470.2 M819.7,479.8 L829.9,465.8 M809.3,465.8 L819.7,470.2 L829.9,465.8 M809.3,465.8 L819.7,460.6 M819.7,470.2 L809.3,456.2 M829.9,465.8 L819.7,460.6 M819.7,470.2 L829.9,456.2 M809.3,456.2 L819.7,460.6 L829.9,456.2"/></g>
<g stroke="#b3cff3" stroke-width="1.25" fill="none" stroke-linecap="round"><path d="M809.3,427.4 V456.2 M819.7,431.8 V460.6 M829.9,427.4 V456.2"/><path d="M809.3,456.2 L819.7,460.6 L829.9,456.2 M809.3,456.2 L819.7,451.0 M819.7,460.6 L809.3,446.6 M829.9,456.2 L819.7,451.0 M819.7,460.6 L829.9,446.6 M809.3,446.6 L819.7,451.0 L829.9,446.6 M809.3,446.6 L819.7,441.4 M819.7,451.0 L809.3,437.0 M829.9,446.6 L819.7,441.4 M819.7,451.0 L829.9,437.0 M809.3,437.0 L819.7,441.4 L829.9,437.0 M809.3,437.0 L819.7,431.8 M819.7,441.4 L809.3,427.4 M829.9,437.0 L819.7,431.8 M819.7,441.4 L829.9,427.4 M809.3,427.4 L819.7,431.8 L829.9,427.4"/></g>
<g stroke="#8ecbf0" stroke-width="1.7" fill="none" stroke-linecap="round"><path d="M813.6,481.4 L783.4,553.9 M824,480.7 L856.0,553.9"/></g>
<ellipse cx="829.7" cy="457.8" rx="5.6" ry="7.0" transform="rotate(28 829.7 457.8)" fill="#9fb4d6"/>
<ellipse cx="830.8" cy="457.3" rx="5.6" ry="7.0" transform="rotate(28 830.8 457.3)" fill="#ece5d6"/>
<ellipse cx="820.8" cy="472.8" rx="5.6" ry="7.0" transform="rotate(28 820.8 472.8)" fill="#9fb4d6"/>
<ellipse cx="821.9" cy="472.3" rx="5.6" ry="7.0" transform="rotate(28 821.9 472.3)" fill="#ece5d6"/>
<g stroke="#6f8fc8" stroke-width="0.8"><path d="M814.9,379 V388 M806.6,389.5 V400 M833.7,386.4 V394.5"/></g>
<rect x="810.2" y="387.3" width="5.8" height="39.7" rx="2.6" ry="1.8" fill="#d3c9b7"/>
<rect x="810.2" y="387.3" width="4.5" height="39.7" rx="2.4" ry="1.8" fill="#ece5d5"/>
<g stroke="#e4ecfb" stroke-width="1.1" fill="none"><path d="M810.5,399.0 L818.5,405.5 M818.5,400.5 L810.5,404.5 M810.5,405.3 L818.5,411.8 M818.5,406.8 L810.5,410.8 M810.5,411.6 L818.5,418.1 M818.5,413.1 L810.5,417.1 M810.5,417.9 L818.5,424.4 M818.5,419.4 L810.5,423.4 M810.5,424.2 L818.5,430.7 M818.5,425.7 L810.5,429.7"/></g>
<g stroke="#7f93cc" stroke-width="1.9" fill="none" stroke-linejoin="round" stroke-linecap="round"><path d="M807.3,401.2 L821.2,407.0 L835.4,399.6 L817.0,392.8 L807.3,401.2"/><path d="M812.0,397.0 L828.5,403.2" stroke-width="1.4"/><path d="M807.3,432.0 L821.2,438.2 L835.4,430.2"/><path d="M808.6,401.5 V432.5 M820.3,406.5 V438 M829.8,402.5 V432.5" stroke-width="1.5"/><path d="M817.0,393 V428" stroke-width="1.2"/><path d="M808.7,432.5 L820.2,425.5 M820.2,437.5 L829.6,425" stroke-width="1.0"/></g>
<rect x="833.0" y="393.9" width="6.0" height="39.1" rx="2.6" ry="1.8" fill="#d3c9b7"/>
<rect x="833.0" y="393.9" width="4.7" height="39.1" rx="2.4" ry="1.8" fill="#ece5d5"/>
<rect x="801.2" y="399.9" width="6.0" height="38.8" rx="2.6" ry="1.8" fill="#d3c9b7"/>
<rect x="801.2" y="399.9" width="4.7" height="38.8" rx="2.4" ry="1.8" fill="#ece5d5"/>
<rect x="821.4" y="406.1" width="6.0" height="39.4" rx="2.6" ry="1.8" fill="#d3c9b7"/>
<rect x="821.4" y="406.1" width="4.7" height="39.4" rx="2.4" ry="1.8" fill="#ece5d5"/>
<path d="M847.4,394.0 Q857.0,403.8 847.4,414.5" fill="none" stroke="#2c6fba" stroke-width="3.0" stroke-linecap="round"/>
<path d="M854.4,390.3 Q869.4,406.4 854.9,427.0" fill="none" stroke="#2c6fba" stroke-width="3.0" stroke-linecap="round"/>
<path d="M861.6,386.0 Q882.2,410.0 861.6,438.0" fill="none" stroke="#2c6fba" stroke-width="3.0" stroke-linecap="round"/>
<path d="M844.8,394.0 Q854.4,403.8 844.8,414.5" fill="none" stroke="#12a5f7" stroke-width="3.2" stroke-linecap="round"/>
<path d="M851.8,390.3 Q866.8,406.4 852.3,427.0" fill="none" stroke="#12a5f7" stroke-width="3.2" stroke-linecap="round"/>
<path d="M859.0,386.0 Q879.6,410.0 859.0,438.0" fill="none" stroke="#12a5f7" stroke-width="3.2" stroke-linecap="round"/>
<defs><filter id="blur6" x="-30%" y="-30%" width="160%" height="160%"><feGaussianBlur stdDeviation="5"/></filter></defs>
<clipPath id="rightPanel"><rect x="514.6" y="44" width="449.4" height="636.5"/></clipPath>
<g clip-path="url(#rightPanel)"><path d="M524,512 L594,471 L604,480 L540,520 Z" fill="#0c3f66" opacity="0.55" filter="url(#blur6)"/></g>
<path d="M438.9,461.0 L511.4,421.0 L593.6,469.0 L593.6,471.8 L524.0,513.4 L438.9,463.8 Z" fill="#176a92"/>
<path d="M438.9,461.0 L511.4,421.0 L593.6,469.0 L524.0,510.6 Z" fill="#1f8bc2"/>
<path d="M441.8,460.4 L445.3,458.3 L445.3,462.2 Z" fill="#9fd0ee"/>
<path d="M448.0,459.3 L523.5,506.3 L589.7,470.0" fill="none" stroke="#a3abb3" stroke-width="2.6" stroke-dasharray="2.3 1.9"/>
<path d="M448.0,452.0 L523.5,499.0 L589.7,462.7 L589.7,469.1 L523.5,505.4 L448.0,458.4 Z" fill="#adb4bb"/>
<path d="M448.0,452.0 L523.5,499.0 L589.7,462.7 L589.7,467.6 L523.5,503.9 L448.0,456.9 Z" fill="#d9dcdf"/>
<path d="M448.0,452.0 L523.5,499.0 L589.7,462.7 L589.7,466.6 L523.5,502.9 L448.0,455.9 Z" fill="#f6f7f8"/>
<g fill="#d09d1c"><ellipse cx="450.5" cy="467.5" rx="1.7" ry="1.25" transform="rotate(30 450.5 467.5)"/><ellipse cx="454.4" cy="469.7" rx="1.7" ry="1.25" transform="rotate(30 454.4 469.7)"/><ellipse cx="458.4" cy="471.9" rx="1.7" ry="1.25" transform="rotate(30 458.4 471.9)"/><ellipse cx="462.3" cy="474.2" rx="1.7" ry="1.25" transform="rotate(30 462.3 474.2)"/><ellipse cx="466.2" cy="476.4" rx="1.7" ry="1.25" transform="rotate(30 466.2 476.4)"/><ellipse cx="470.2" cy="478.6" rx="1.7" ry="1.25" transform="rotate(30 470.2 478.6)"/><ellipse cx="474.1" cy="480.8" rx="1.7" ry="1.25" transform="rotate(30 474.1 480.8)"/><ellipse cx="478.0" cy="483.0" rx="1.7" ry="1.25" transform="rotate(30 478.0 483.0)"/><ellipse cx="481.9" cy="485.3" rx="1.7" ry="1.25" transform="rotate(30 481.9 485.3)"/><ellipse cx="485.9" cy="487.5" rx="1.7" ry="1.25" transform="rotate(30 485.9 487.5)"/><ellipse cx="489.8" cy="489.7" rx="1.7" ry="1.25" transform="rotate(30 489.8 489.7)"/><ellipse cx="493.7" cy="491.9" rx="1.7" ry="1.25" transform="rotate(30 493.7 491.9)"/><ellipse cx="497.7" cy="494.1" rx="1.7" ry="1.25" transform="rotate(30 497.7 494.1)"/><ellipse cx="501.6" cy="496.4" rx="1.7" ry="1.25" transform="rotate(30 501.6 496.4)"/><ellipse cx="505.5" cy="498.6" rx="1.7" ry="1.25" transform="rotate(30 505.5 498.6)"/><ellipse cx="509.5" cy="500.8" rx="1.7" ry="1.25" transform="rotate(30 509.5 500.8)"/><ellipse cx="513.4" cy="503.0" rx="1.7" ry="1.25" transform="rotate(30 513.4 503.0)"/><ellipse cx="536.0" cy="502.7" rx="1.7" ry="1.25" transform="rotate(-30 536.0 502.7)"/><ellipse cx="540.2" cy="500.3" rx="1.7" ry="1.25" transform="rotate(-30 540.2 500.3)"/><ellipse cx="544.3" cy="498.0" rx="1.7" ry="1.25" transform="rotate(-30 544.3 498.0)"/><ellipse cx="548.5" cy="495.6" rx="1.7" ry="1.25" transform="rotate(-30 548.5 495.6)"/><ellipse cx="552.7" cy="493.2" rx="1.7" ry="1.25" transform="rotate(-30 552.7 493.2)"/><ellipse cx="561.0" cy="488.4" rx="1.7" ry="1.25" transform="rotate(-30 561.0 488.4)"/><ellipse cx="565.2" cy="486.1" rx="1.7" ry="1.25" transform="rotate(-30 565.2 486.1)"/><ellipse cx="569.4" cy="483.7" rx="1.7" ry="1.25" transform="rotate(-30 569.4 483.7)"/><ellipse cx="573.6" cy="481.3" rx="1.7" ry="1.25" transform="rotate(-30 573.6 481.3)"/><ellipse cx="577.7" cy="479.0" rx="1.7" ry="1.25" transform="rotate(-30 577.7 479.0)"/><ellipse cx="581.9" cy="476.6" rx="1.7" ry="1.25" transform="rotate(-30 581.9 476.6)"/></g>
<path d="M511.4,416.5 L589.7,462.7 L523.5,499.0 L448.0,452.0 Z" fill="#fff"/>
<g transform="matrix(0.866,-0.5,0.866,0.5,487.1,469.2)" fill="#4a4a4a" font-size="12.6"><text x="0" y="0" textLength="57" lengthAdjust="spacingAndGlyphs">IoT Connectivity</text><text x="16.6" y="16" textLength="24" lengthAdjust="spacingAndGlyphs">Module</text></g>
<text x="824.1" y="589.0" font-size="13.2" text-anchor="middle" font-weight="normal" fill="#fff" textLength="159.8" lengthAdjust="spacingAndGlyphs" stroke="#fff" stroke-width="0.32">CELLULAR BASE STATION</text>
<text x="278.5" y="627.2" font-size="13.2" text-anchor="middle" font-weight="normal" fill="#fff" textLength="204.0" lengthAdjust="spacingAndGlyphs" stroke="#fff" stroke-width="0.32">BLE Wireless Mesh Link - 2.4GHz</text>
<text x="278.5" y="642.8" font-size="13.2" text-anchor="middle" font-weight="normal" fill="#fff" textLength="93.8" lengthAdjust="spacingAndGlyphs" stroke="#fff" stroke-width="0.32">Mesh Topology</text>
</svg>
</body></html>
